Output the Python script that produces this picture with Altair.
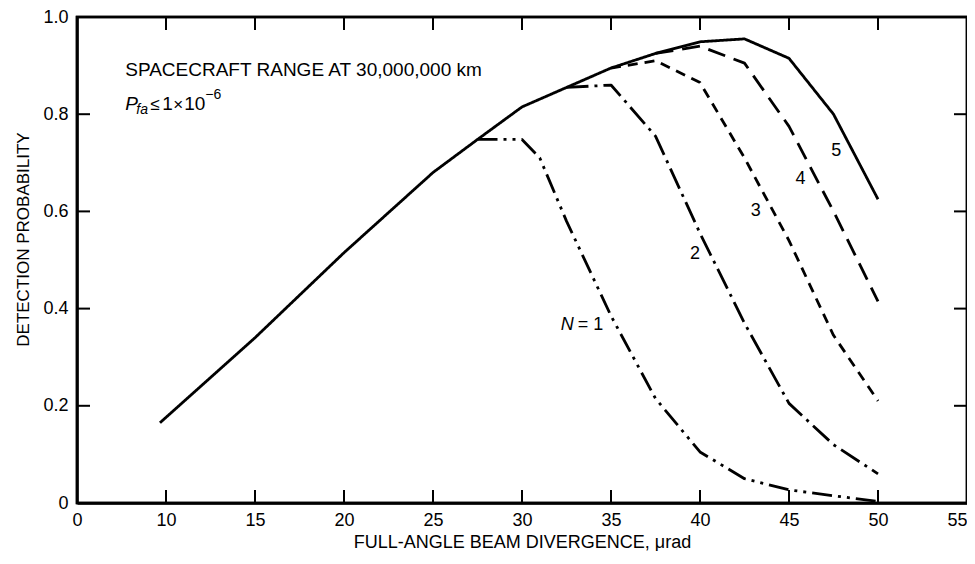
import altair as alt
import pandas as pd

# ---- data ----
x5 = [9.66, 15, 20, 25, 27.5, 30, 32.5, 35, 37.5, 40, 42.5, 45, 47.5, 50]
y5 = [0.165, 0.34, 0.515, 0.68, 0.748, 0.815, 0.855, 0.895, 0.925, 0.949, 0.955, 0.915, 0.80, 0.625]
x4 = [37.5, 40, 42.5, 45, 47.5, 50]
y4 = [0.925, 0.94, 0.905, 0.775, 0.60, 0.415]
x3 = [35, 37.5, 40, 42.5, 45, 47.5, 50]
y3 = [0.895, 0.91, 0.865, 0.71, 0.54, 0.345, 0.21]
x2 = [32.5, 35, 37.5, 40, 42.5, 45, 47.5, 50]
y2 = [0.855, 0.86, 0.755, 0.555, 0.37, 0.205, 0.12, 0.06]
x1 = [27.5, 30, 31, 32.5, 35, 37.5, 40, 42.5, 45, 47.5, 50]
y1 = [0.748, 0.748, 0.71, 0.58, 0.385, 0.215, 0.105, 0.05, 0.027, 0.015, 0.003]

series_names = ["5", "4", "3", "2", "1"]
x_ticks = [5, 10, 15, 20, 25, 30, 35, 40, 45, 50, 55]
y_ticks = [0, 0.2, 0.4, 0.6, 0.8, 1.0]
inner_x_ticks = [10, 15, 20, 25, 30, 35, 40, 45, 50]
inner_y_ticks = [0.2, 0.4, 0.6, 0.8]

# curve labels
lab_text = ["2", "3", "4", "5"]
lab_x = [39.44, 42.85, 45.36, 47.37]
lab_y = [0.502, 0.591, 0.657, 0.713]

FONT = "Liberation Sans"
W, H = 890, 486
TL = 13  # inward tick length in px

rows = []
for name, xs, ys in zip(series_names, [x5, x4, x3, x2, x1], [y5, y4, y3, y2, y1]):
    for a, b in zip(xs, ys):
        rows.append({"N": name, "x": a, "y": b})
df = pd.DataFrame(rows)

xscale = alt.Scale(domain=[5, 55], nice=False, zero=False)
yscale = alt.Scale(domain=[0, 1], nice=False, zero=False)

xaxis = alt.Axis(
    values=x_ticks,
    labelExpr="datum.value == 5 ? '0' : datum.label",
    ticks=False, grid=False,
    domain=True, domainColor="black", domainWidth=2.5,
    labelFont=FONT, labelFontSize=18, labelColor="black", labelPadding=8,
    labelAlign={"condition": {"test": "datum.value == 55", "value": "right"}, "value": "center"},
    labelFlush=False,
    title="FULL-ANGLE BEAM DIVERGENCE, \u03bcrad",
    titleFont=FONT, titleFontSize=18, titleFontWeight="normal", titleColor="black",
    titlePadding=4,
)
yaxis = alt.Axis(
    values=y_ticks,
    labelExpr="datum.value == 0 ? '0' : format(datum.value, '.1f')",
    ticks=False, grid=False,
    domain=True, domainColor="black", domainWidth=2.5,
    labelFont=FONT, labelFontSize=18, labelColor="black", labelPadding=9,
    title="DETECTION PROBABILITY",
    titleFont=FONT, titleFontSize=17, titleFontWeight="normal", titleColor="black",
    titlePadding=10, titleY=222,
)

lines = alt.Chart(df).mark_line(color="black", strokeWidth=2.8, strokeCap="butt", strokeJoin="round").encode(
    x=alt.X("x:Q", scale=xscale, axis=xaxis),
    y=alt.Y("y:Q", scale=yscale, axis=yaxis),
    strokeDash=alt.StrokeDash(
        "N:N",
        scale=alt.Scale(
            domain=series_names,
            range=[[1, 0], [18, 9], [10, 7], [22, 6, 3, 6], [20, 6, 3, 6, 3, 6]],
        ),
        legend=None,
    ),
    order="x:Q",
)

xt = pd.DataFrame({"x": inner_x_ticks})
yt = pd.DataFrame({"y": inner_y_ticks})
rule_style = dict(stroke="black", strokeWidth=2, strokeOpacity=1)
bottom_ticks = alt.Chart(xt).mark_rule(**rule_style).encode(
    x=alt.X("x:Q", scale=xscale), y=alt.value(H), y2=alt.value(H - TL))
top_ticks = alt.Chart(xt).mark_rule(**rule_style).encode(
    x=alt.X("x:Q", scale=xscale), y=alt.value(0), y2=alt.value(TL))
left_ticks = alt.Chart(yt).mark_rule(**rule_style).encode(
    y=alt.Y("y:Q", scale=yscale), x=alt.value(0), x2=alt.value(TL))
right_ticks = alt.Chart(yt).mark_rule(**rule_style).encode(
    y=alt.Y("y:Q", scale=yscale), x=alt.value(W), x2=alt.value(W - TL))

frame_df = pd.DataFrame({"k": [0]})
frame = alt.Chart(frame_df).mark_rect(
    fill="white", fillOpacity=0, stroke="black", strokeWidth=2.5, strokeOpacity=1
).encode(x=alt.value(0), x2=alt.value(W), y=alt.value(0), y2=alt.value(H))

def txt(text, x, y, size=18, style="normal", dx=0, dy=0, align="left"):
    d = pd.DataFrame({"x": [x], "y": [y], "t": [text]})
    return alt.Chart(d).mark_text(
        font=FONT, fontSize=size, fontStyle=style, color="black",
        align=align, baseline="alphabetic", dx=dx, dy=dy,
    ).encode(x=alt.X("x:Q", scale=xscale), y=alt.Y("y:Q", scale=yscale), text="t:N")

texts = [
    txt("SPACECRAFT RANGE AT 30,000,000 km", 7.71, 0.878, size=19),
    txt("P", 7.71, 0.809, size=19, style="italic"),
    txt("fa", 7.71, 0.809, size=14, style="italic", dx=11, dy=4),
    txt("\u2264", 7.71, 0.809, size=17, dx=25),
    txt("1", 7.71, 0.809, size=19, dx=37),
    txt("\u00d7", 7.71, 0.809, size=17, dx=48),
    txt("10", 7.71, 0.809, size=19, dx=59),
    txt("\u22126", 7.71, 0.809, size=14, dx=80, dy=-11),
    txt("N", 32.18, 0.356, size=18, style="italic"),
    txt("= 1", 32.18, 0.356, size=18, dx=17),
]
lab_df = pd.DataFrame({"x": lab_x, "y": lab_y, "t": lab_text})
labels = alt.Chart(lab_df).mark_text(
    font=FONT, fontSize=18, color="black", align="left", baseline="alphabetic"
).encode(x=alt.X("x:Q", scale=xscale), y=alt.Y("y:Q", scale=yscale), text="t:N")

chart = alt.layer(
    frame, lines, bottom_ticks, top_ticks, left_ticks, right_ticks, labels, *texts
).properties(
    width=W, height=H,
    padding={"left": 69, "top": 9, "right": 0, "bottom": 48},
    autosize=alt.AutoSizeParams(type="none"),
    background="white",
).configure_view(stroke="black", strokeWidth=2.5)

chart.save("out.html", embed_options={"renderer": "svg", "actions": False})
